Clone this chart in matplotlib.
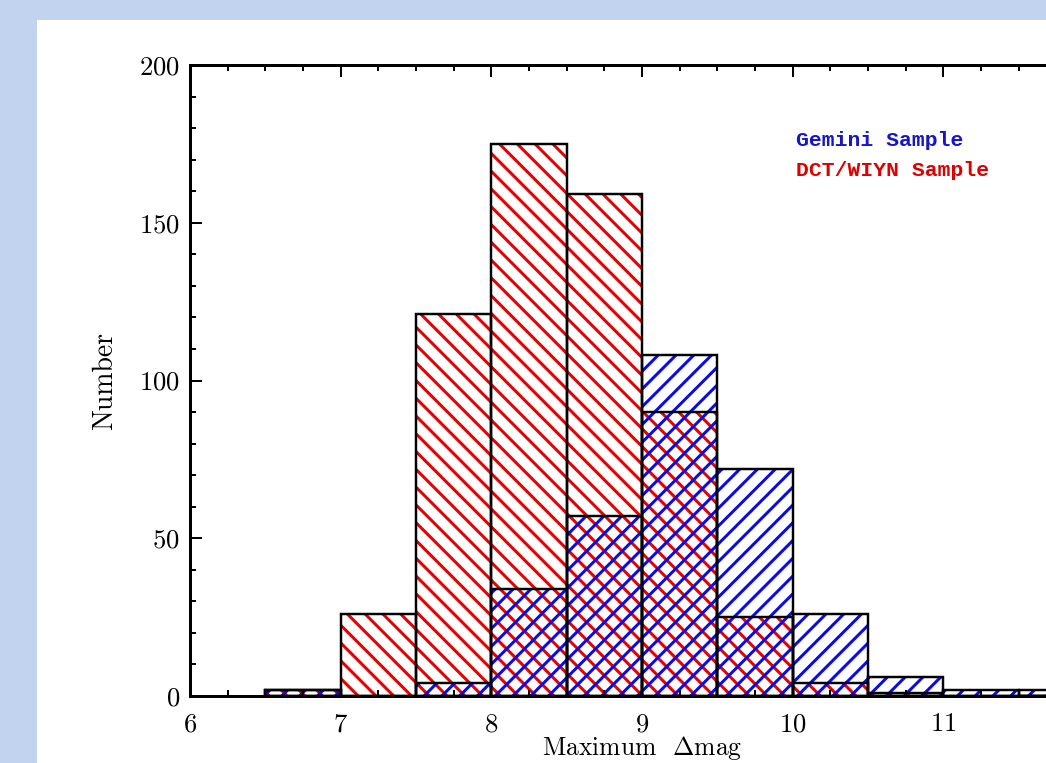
import numpy as np
import matplotlib
matplotlib.use("Agg")
import matplotlib.pyplot as plt
from matplotlib.patches import Rectangle
from matplotlib.ticker import MultipleLocator

# histogram bins (left edges, width 0.5 mag)
bin_left = [6.5, 7.0, 7.5, 8.0, 8.5, 9.0, 9.5, 10.0, 10.5, 11.0, 11.5]
bin_width = 0.5
gemini = [2, 0, 4, 34, 57, 108, 72, 26, 6, 2, 2]
dct_wiyn = [2, 26, 121, 175, 159, 90, 25, 4, 1, 0, 0]
x_ticks = [6, 7, 8, 9, 10, 11]

blue = "#0a0aee"
red = "#e60000"

DPI = 160
plt.rcParams['font.family'] = 'cmr10'
plt.rcParams['mathtext.fontset'] = 'cm'
plt.rcParams['axes.formatter.use_mathtext'] = True
plt.rcParams['hatch.linewidth'] = 1.35

fig = plt.figure(figsize=(1046 / DPI, 763 / DPI), dpi=DPI, facecolor="#c2d3f0")
# white slide panel
fig.patches.append(Rectangle((37 / 1046, 0), 1, (763 - 20) / 763,
                             transform=fig.transFigure, facecolor="white",
                             edgecolor="none", zorder=-5))

ax = fig.add_axes([190 / 1046, 67 / 763, 904 / 1046, 631 / 763])
ax.set_facecolor("none")

# hatched fills
ax.bar(bin_left, dct_wiyn, width=bin_width, align='edge', fill=False,
       edgecolor=red, linewidth=0, hatch='\\' * 3)
ax.bar(bin_left, gemini, width=bin_width, align='edge', fill=False,
       edgecolor=blue, linewidth=0, hatch='/' * 3)
# black outlines
ax.bar(bin_left, dct_wiyn, width=bin_width, align='edge', fill=False,
       edgecolor='black', linewidth=1.1)
ax.bar(bin_left, gemini, width=bin_width, align='edge', fill=False,
       edgecolor='black', linewidth=1.1)

ax.set_xlim(6, 12)
ax.set_ylim(0, 200)
ax.set_xticks(x_ticks)
ax.xaxis.set_minor_locator(MultipleLocator(0.25))
ax.yaxis.set_major_locator(MultipleLocator(50))
ax.yaxis.set_minor_locator(MultipleLocator(10))
ax.tick_params(which='both', direction='in', top=True, right=True,
               width=0.9, labelsize=12)
ax.tick_params(which='major', length=5.4)
ax.tick_params(which='minor', length=2.7)
ax.tick_params(axis='x', pad=7.5)
ax.tick_params(axis='y', pad=4.5)
for s in ax.spines.values():
    s.set_linewidth(1.35)

ax.set_xlabel(r'Maximum  $\Delta$mag', fontsize=11.5, labelpad=-1)
ax.set_ylabel('Number', fontsize=12.5, labelpad=9.5)

ax.text(10.02, 176, 'Gemini Sample', color="#1515cc", fontsize=9.6,
        family='Liberation Mono', weight='bold', va='center')
ax.text(10.02, 166.5, 'DCT/WIYN Sample', color="#dd0000", fontsize=9.6,
        family='Liberation Mono', weight='bold', va='center')

fig.savefig("out.png", dpi=DPI, facecolor=fig.get_facecolor())
